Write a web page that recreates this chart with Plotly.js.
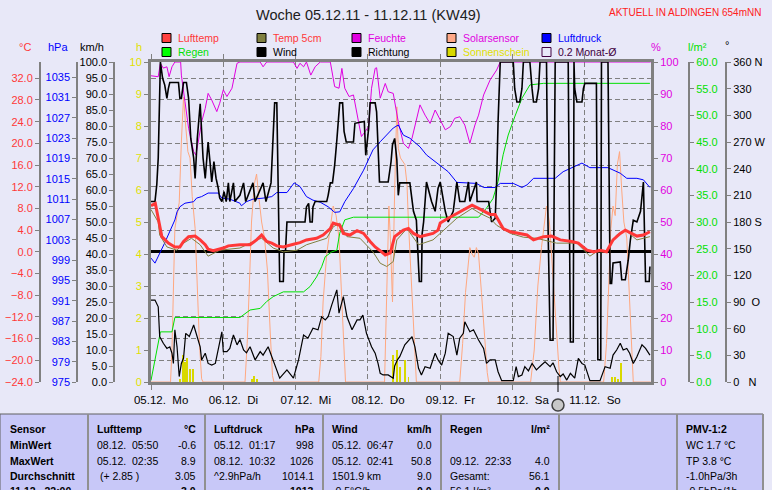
<!DOCTYPE html>
<html><head><meta charset="utf-8">
<script src="https://cdn.plot.ly/plotly-3.0.1.min.js"></script>
<style>html,body{margin:0;padding:0;background:#E8E8F8;overflow:hidden}</style>
</head><body><div id="chart" style="width:772px;height:490px"></div>
<script>
// ---------- DATA (x = days since 05.12.11 00:00) ----------
const dayLabels = ['05.12.\u00a0\u00a0Mo','06.12.\u00a0\u00a0Di','07.12.\u00a0\u00a0Mi','08.12.\u00a0\u00a0Do','09.12.\u00a0\u00a0Fr','10.12.\u00a0\u00a0Sa','11.12.\u00a0\u00a0So'];

const feuchte = [[0,95.7],[0.10,95.4],[0.13,99.6],[0.17,98.1],[0.22,98.5],[0.25,95.4],[0.29,98.5],[0.33,100],[0.41,100],[0.42,95.9],[0.47,87.6],[0.52,79.3],[0.59,72.0],[0.62,70.9],[0.65,74.6],[0.70,81.3],[0.75,85.5],[0.79,90.2],[0.84,88.1],[0.91,84.5],[0.95,87.1],[1.00,91.3],[1.05,89.2],[1.12,91.8],[1.19,99.6],[1.23,100],[1.51,100],[1.55,98.5],[1.60,100],[1.97,100],[2.02,98.0],[2.06,99.6],[2.11,98.5],[2.15,100],[2.21,95.9],[2.27,98.5],[2.34,100],[2.48,100],[2.54,92.3],[2.60,91.8],[2.64,98.0],[2.68,91.8],[2.74,89.2],[2.80,89.7],[2.87,81.3],[2.91,76.7],[2.96,78.2],[3.01,79.8],[3.05,91.8],[3.10,98.0],[3.12,98.2],[3.17,88.7],[3.24,93.3],[3.28,90.7],[3.35,90.2],[3.42,81.3],[3.49,74.6],[3.56,73.0],[3.61,76.2],[3.72,86.6],[3.79,83.4],[3.86,80.8],[3.93,85.0],[4.00,81.9],[4.07,78.8],[4.14,79.8],[4.20,82.4],[4.27,82.9],[4.34,80.3],[4.41,74.6],[4.48,80.3],[4.53,83.4],[4.60,89.7],[4.69,94.4],[4.78,97.5],[4.83,100],[6.91,100]];

const luftdruck = [[0,999.4],[0.055,998.4],[0.19,1002.4],[0.26,1004.5],[0.33,1006.9],[0.36,1008.5],[0.40,1009.5],[0.47,1010.2],[0.59,1010.5],[0.63,1011.2],[0.70,1011.5],[0.79,1012.2],[0.93,1012.2],[0.98,1011.2],[1.09,1011.0],[1.23,1010.2],[1.25,1009.7],[1.32,1010.5],[1.41,1011.0],[1.55,1011.2],[1.67,1011.5],[1.74,1012.3],[1.88,1012.3],[1.98,1014.2],[2.06,1013.5],[2.15,1011.5],[2.24,1010.8],[2.34,1010.4],[2.45,1009.5],[2.54,1008.4],[2.61,1008.5],[2.68,1010.5],[2.80,1013.1],[2.94,1016.7],[3.07,1020.7],[3.17,1022.3],[3.26,1023.6],[3.35,1025.0],[3.42,1025.6],[3.49,1023.6],[3.58,1023.0],[3.72,1021.3],[3.81,1019.7],[3.95,1018.1],[4.11,1016.4],[4.23,1014.3],[4.50,1014.1],[4.60,1013.3],[4.76,1013.3],[4.83,1014.1],[5.01,1014.1],[5.13,1013.3],[5.20,1013.8],[5.29,1015.1],[5.59,1015.1],[5.70,1016.4],[5.82,1017.2],[5.96,1018.1],[6.07,1017.2],[6.32,1017.2],[6.49,1016.1],[6.58,1015.1],[6.72,1015.1],[6.81,1014.8],[6.90,1013.3]];

const lufttemp = [[0,8.5],[0.06,8.9],[0.10,6.2],[0.15,2.8],[0.24,1.6],[0.33,0.9],[0.40,0.9],[0.45,1.9],[0.52,2.8],[0.61,2.9],[0.68,2.2],[0.75,1.3],[0.79,0.5],[0.86,0.2],[1.00,0.7],[1.07,1.1],[1.23,1.3],[1.37,1.3],[1.46,2.2],[1.53,3.1],[1.60,1.9],[1.67,1.6],[1.74,1.1],[1.83,0.9],[1.97,1.4],[2.06,1.7],[2.15,2.2],[2.29,2.5],[2.38,3.1],[2.48,4.3],[2.52,5.3],[2.61,4.9],[2.66,3.4],[2.75,3.1],[2.85,3.9],[2.94,3.4],[3.03,1.9],[3.10,0.9],[3.19,0.0],[3.24,-0.6],[3.31,-0.2],[3.37,2.8],[3.49,4.0],[3.56,4.3],[3.63,3.4],[3.72,2.8],[3.81,3.1],[3.90,3.4],[3.97,4.0],[4.00,5.3],[4.11,6.2],[4.23,7.1],[4.37,8.0],[4.44,8.6],[4.53,8.0],[4.62,7.4],[4.69,6.9],[4.76,6.9],[4.83,5.3],[4.87,4.3],[4.97,3.7],[5.08,3.4],[5.20,3.1],[5.29,2.2],[5.43,2.8],[5.54,2.9],[5.66,2.2],[5.82,1.9],[5.91,1.6],[6.03,0.3],[6.12,0.0],[6.21,0.3],[6.30,0.0],[6.39,2.2],[6.49,3.4],[6.56,4.0],[6.65,3.4],[6.72,2.9],[6.81,3.1],[6.90,3.7]];

const temp5cm = [[0,7.8],[0.10,5.5],[0.12,3.1],[0.22,0.9],[0.36,0.3],[0.45,1.6],[0.56,2.5],[0.68,1.3],[0.79,-0.8],[0.95,0.3],[1.23,0.7],[1.46,2.2],[1.53,2.5],[1.69,0.7],[1.83,0.0],[2.02,0.3],[2.15,1.3],[2.43,2.5],[2.52,4.6],[2.61,5.3],[2.71,2.8],[2.89,2.5],[3.07,0.0],[3.17,-2.1],[3.26,-2.7],[3.35,-1.8],[3.40,2.2],[3.54,4.3],[3.70,1.3],[3.90,2.2],[4.00,3.4],[4.23,6.2],[4.44,8.0],[4.55,7.1],[4.69,6.2],[4.78,4.9],[4.97,3.4],[5.15,2.7],[5.33,2.5],[5.61,1.6],[5.89,1.6],[6.07,-0.8],[6.16,0.0],[6.30,0.0],[6.44,3.1],[6.56,4.0],[6.72,2.2],[6.90,2.8]];

const regen = [[0,0.3],[0.08,6.0],[0.13,9.4],[0.29,9.4],[0.33,12.1],[1.23,12.1],[1.37,13.5],[1.51,13.8],[1.60,15.1],[1.69,16.0],[1.83,16.9],[2.11,16.9],[2.20,17.9],[2.29,19.7],[2.36,21.6],[2.41,23.5],[2.50,24.4],[2.57,24.7],[2.61,27.9],[2.68,30.4],[2.80,30.9],[4.53,30.9],[4.64,32.6],[4.73,34.4],[4.80,37.6],[4.87,42.6],[4.94,46.3],[5.03,49.7],[5.13,53.2],[5.24,55.7],[5.43,56.0],[6.90,56.0]];

const wind = [[0,25.6],[0.055,25.6],[0.10,23.5],[0.12,14.2],[0.17,12.1],[0.22,10.5],[0.26,11.0],[0.29,9.0],[0.31,5.8],[0.33,16.3],[0.36,11.0],[0.39,1.7],[0.42,5.8],[0.45,7.5],[0.48,15.2],[0.53,14.2],[0.59,17.8],[0.63,14.7],[0.68,11.0],[0.70,6.9],[0.75,9.0],[0.79,5.8],[0.84,5.3],[0.89,5.8],[0.93,10.0],[0.98,15.7],[1.00,9.5],[1.05,9.5],[1.09,10.5],[1.14,14.7],[1.19,11.6],[1.23,13.3],[1.28,10.0],[1.32,9.1],[1.37,11.0],[1.44,6.9],[1.51,9.5],[1.55,8.4],[1.62,11.0],[1.69,6.9],[1.78,1.2],[1.88,3.8],[1.97,1.2],[2.04,6.9],[2.11,14.7],[2.17,13.7],[2.24,16.8],[2.31,16.3],[2.36,20.4],[2.41,19.4],[2.45,20.4],[2.50,24.1],[2.57,28.8],[2.60,21.5],[2.66,26.7],[2.71,20.4],[2.78,16.3],[2.85,19.4],[2.89,19.4],[2.93,20.9],[2.98,15.2],[3.05,11.0],[3.10,9.0],[3.14,5.8],[3.17,2.7],[3.21,2.2],[3.28,2.2],[3.35,1.2],[3.37,5.0],[3.41,7.0],[3.44,7.9],[3.51,11.6],[3.61,14.2],[3.65,11.0],[3.70,4.3],[3.74,2.2],[3.79,4.8],[3.86,4.3],[3.93,9.0],[3.97,6.9],[4.02,5.3],[4.07,9.0],[4.11,15.2],[4.18,14.2],[4.23,8.4],[4.27,13.7],[4.32,15.2],[4.34,18.8],[4.41,15.7],[4.46,16.3],[4.53,13.1],[4.60,10.5],[4.64,5.8],[4.69,6.9],[4.76,6.9],[4.80,3.2],[4.85,0.4],[5.01,0.4],[5.05,4.8],[5.08,1.7],[5.13,2.2],[5.17,4.8],[5.22,3.5],[5.27,5.8],[5.33,3.8],[5.40,5.3],[5.45,6.3],[5.52,4.8],[5.56,6.0],[5.61,3.2],[5.66,1.7],[5.70,2.5],[5.75,0.6],[5.80,2.7],[5.86,1.2],[5.91,7.4],[5.96,5.8],[6.00,5.3],[6.07,0.4],[6.21,0.4],[6.28,4.8],[6.35,4.3],[6.39,8.4],[6.44,10.0],[6.49,12.1],[6.53,10.0],[6.58,10.5],[6.62,9.0],[6.67,5.8],[6.72,7.9],[6.79,11.6],[6.84,10.5],[6.90,8.4]];

const richtung = [[0,203],[0.055,203],[0.08,222],[0.10,252],[0.13,360],[0.16,342],[0.19,334],[0.22,319],[0.24,330],[0.26,337],[0.38,337],[0.40,319],[0.42,319],[0.45,337],[0.49,337],[0.52,319],[0.55,274],[0.59,252],[0.61,229],[0.64,274],[0.68,313],[0.70,278],[0.72,252],[0.75,229],[0.79,270],[0.82,244],[0.84,225],[0.87,248],[0.90,229],[0.93,218],[0.95,207],[0.98,203],[1.01,214],[1.04,203],[1.07,224],[1.09,203],[1.14,224],[1.16,203],[1.23,210],[1.28,224],[1.31,203],[1.41,224],[1.44,203],[1.55,224],[1.59,203],[1.66,224],[1.71,314],[1.74,314],[1.76,182],[1.78,113],[1.83,113],[1.84,147],[1.86,147],[1.88,180],[2.13,180],[2.15,197],[2.18,201],[2.20,180],[2.23,180],[2.24,197],[2.27,203],[2.43,203],[2.45,210],[2.48,224],[2.51,224],[2.54,244],[2.57,272],[2.61,314],[2.65,314],[2.67,282],[2.70,270],[2.80,270],[2.82,291],[2.95,293],[2.97,255],[3.01,285],[3.03,314],[3.10,314],[3.12,304],[3.14,255],[3.16,225],[3.28,225],[3.32,248],[3.34,267],[3.37,274],[3.40,250],[3.42,210],[3.44,224],[3.58,224],[3.63,192],[3.67,182],[3.71,113],[3.74,113],[3.75,167],[3.77,180],[3.81,225],[3.88,203],[3.93,192],[3.97,218],[4.00,225],[4.07,192],[4.11,180],[4.18,192],[4.23,225],[4.27,203],[4.34,203],[4.39,225],[4.41,203],[4.50,225],[4.51,203],[4.67,203],[4.71,180],[4.76,184],[4.78,225],[4.80,293],[4.83,360],[5.01,360],[5.03,330],[5.06,315],[5.10,315],[5.13,330],[5.15,360],[5.24,360],[5.27,330],[5.29,315],[5.33,315],[5.36,330],[5.38,360],[5.47,360],[5.49,180],[5.52,47],[5.56,47],[5.59,360],[5.77,360],[5.80,45],[5.84,45],[5.85,360],[5.86,330],[5.89,315],[5.96,315],[5.98,330],[6.00,336],[6.16,336],[6.18,25],[6.22,25],[6.23,360],[6.32,360],[6.35,111],[6.37,111],[6.39,134],[6.49,135],[6.51,115],[6.56,115],[6.60,137],[6.63,160],[6.67,182],[6.72,180],[6.77,192],[6.81,225],[6.84,113],[6.89,113],[6.90,130]];

const solar = [[0,0],[0.27,0],[0.29,10],[0.31,30],[0.33,48],[0.36,52],[0.39,56],[0.42,75],[0.45,89],[0.48,80],[0.51,72],[0.54,70],[0.57,58],[0.61,48],[0.64,30],[0.67,12],[0.70,1],[0.72,0],[1.30,0],[1.33,12],[1.36,30],[1.39,50],[1.43,62],[1.46,65],[1.49,58],[1.53,50],[1.57,45],[1.61,35],[1.65,15],[1.68,2],[1.70,0],[2.32,0],[2.35,8],[2.38,25],[2.43,40],[2.48,48],[2.52,55],[2.56,52],[2.60,45],[2.63,30],[2.66,12],[2.69,0],[3.23,0],[3.26,25],[3.29,55],[3.31,45],[3.34,25],[3.37,60],[3.40,86],[3.42,73],[3.45,70],[3.51,68],[3.54,62],[3.56,50],[3.60,30],[3.64,10],[3.67,0],[4.27,0],[4.31,12],[4.35,28],[4.39,38],[4.41,42],[4.44,40],[4.47,39],[4.50,42],[4.53,40],[4.57,28],[4.61,14],[4.65,3],[4.67,0],[5.25,0],[5.30,10],[5.35,30],[5.40,42],[5.44,50],[5.47,55],[5.51,50],[5.55,35],[5.60,18],[5.64,5],[5.66,0],[6.26,0],[6.30,12],[6.33,30],[6.36,48],[6.39,55],[6.42,52],[6.45,68],[6.48,72],[6.51,60],[6.54,50],[6.58,45],[6.62,25],[6.65,8],[6.67,0],[6.91,0]];

const sonnenschein = [[0.40,0.08],[0.44,0.84],[0.47,0.62],[0.50,0.76],[0.54,0.42],[0.58,0.42],[1.40,0.08],[1.43,0.18],[1.47,0.08],[3.35,0.84],[3.40,1.0],[3.44,0.48],[3.51,0.69],[3.56,0.17],[6.37,0.17],[6.42,0.17],[6.46,0.1],[6.50,0.58]];

// axis tick labels
const dirTickVals = [0,30,60,90,120,150,180,210,240,270,300,330,360];
const dirTickText = ['0\u00a0\u00a0\u00a0N','30','60','90\u00a0\u00a0O','120','150','180 S','210','240','270 W','300','330','360 N'];

// table texts
const rowLabels = ['Sensor','MinWert','MaxWert','Durchschnitt','11.12.\u00a0\u00a022:00'];
const colHeads = ['Lufttemp','Luftdruck','Wind','Regen'];
const colUnits = ['°C','hPa','km/h','l/m²'];
const lufttempLeft = ['08.12.\u00a0\u00a005:50','05.12.\u00a0\u00a002:35','\u00a0(+ 2.85 )',''];
const lufttempRight = ['-0.6','8.9','3.05','<b>3.0</b>'];
const luftdruckLeft = ['05.12.\u00a0\u00a001:17','08.12.\u00a0\u00a010:32','^2.9hPa/h',''];
const luftdruckRight = ['998','1026','1014.1','<b>1013</b>'];
const windLeft = ['05.12.\u00a0\u00a006:47','05.12.\u00a0\u00a002:41','1501.9 km','-0.5°C/h'];
const windRight = ['0.0','50.8','9.0','<b>0.0</b>'];
const regenLeft = ['','09.12.\u00a0\u00a022:33','Gesamt:','56.1 l/m²'];
const regenRight = ['','4.0','56.1','<b>0.0</b>'];
const pmvCol = ['<b>PMV-1:2</b>','WC 1.7 °C','TP 3.8 °C','-1.0hPa/3h','-0.5hPa/1h'];

// ---------- LAYOUT HELPERS ----------
const W=772,H=490;
const px=x=>x/W, py=y=>1-y/H;
const FN="Liberation Sans, Arial, sans-serif";
const GREY='#808080';
const ydom=[py(382),py(62)];
const C={red:'#FF3838',blue:'#0000FF',mag:'#E000E0',green:'#00E000',yel:'#E0E000',olive:'#808040',salmon:'#FFA880'};

const col=(arr,i)=>arr.map(p=>p[i]);
const traces=[
 {x:col(sonnenschein,0),y:col(sonnenschein,1),type:'bar',width:0.025,marker:{color:'#D8D800',line:{width:0}},yaxis:'y',xaxis:'x'},
 {x:col(solar,0),y:col(solar,1),mode:'lines',line:{color:C.salmon,width:1},yaxis:'y2'},
 {x:col(feuchte,0),y:col(feuchte,1),mode:'lines',line:{color:C.mag,width:1},yaxis:'y2'},
 {x:col(regen,0),y:col(regen,1),mode:'lines',line:{color:C.green,width:1},yaxis:'y3'},
 {x:col(luftdruck,0),y:col(luftdruck,1),mode:'lines',line:{color:C.blue,width:1},yaxis:'y4'},
 {x:col(wind,0),y:col(wind,1),mode:'lines',line:{color:'#000',width:1.2},yaxis:'y5'},
 {x:col(richtung,0),y:col(richtung,1),mode:'lines',line:{color:'#000',width:1.6},yaxis:'y6'},
 {x:col(temp5cm,0),y:col(temp5cm,1),mode:'lines',line:{color:C.olive,width:1},yaxis:'y7'},
 {x:col(lufttemp,0),y:col(lufttemp,1),mode:'lines',line:{color:C.red,width:3},yaxis:'y7'}
];
traces.forEach(t=>{t.hoverinfo='skip';t.showlegend=false;if(t.type!=='bar')t.type='scatter';});

const ax=(o)=>Object.assign({domain:ydom,showgrid:false,zeroline:false,showline:true,linecolor:GREY,linewidth:2,ticks:'outside',ticklen:4,tickcolor:GREY,tickwidth:1,fixedrange:true},o);
const tf=c=>({family:FN,size:11,color:c});

const layout={
 width:W,height:H,margin:{l:0,r:0,t:0,b:0},
 paper_bgcolor:'#E8E8F8',plot_bgcolor:'#E8E8F8',
 showlegend:false,bargap:0,
 xaxis:{domain:[px(151),px(651)],range:[0,6.915],anchor:'y',showline:true,linecolor:GREY,linewidth:3,mirror:'ticks',
   tickmode:'array',tickvals:dayLabels.map((_,i)=>i+0.14),ticktext:dayLabels,ticks:'',showgrid:false,zeroline:false,
   tickfont:{family:FN,size:11.5,color:'#000'},ticklabelstandoff:5,fixedrange:true,
   minor:{tick0:0,dtick:1,showgrid:true,gridcolor:GREY,griddash:'5px,3px',gridwidth:1,ticks:'outside',ticklen:5,tickcolor:GREY}},
 yaxis:ax({range:[0,10],tick0:0,dtick:1,tickfont:tf(C.yel),linewidth:3,mirror:true,anchor:'x'}),
 yaxis2:ax({overlaying:'y',side:'right',anchor:'x',range:[0,100],tick0:0,dtick:10,tickfont:tf(C.mag),linewidth:3}),
 yaxis3:ax({overlaying:'y',side:'right',anchor:'free',position:px(689),range:[0,60],tick0:0,dtick:5,tickformat:'.1f',tickfont:tf(C.green)}),
 yaxis4:ax({overlaying:'y',side:'left',anchor:'free',position:px(77.3),range:[975,1038],tick0:975,dtick:4,tickfont:tf(C.blue)}),
 yaxis5:ax({overlaying:'y',side:'left',anchor:'free',position:px(114.3),range:[0,100],tick0:0,dtick:5,tickformat:'.1f',tickfont:tf('#000')}),
 yaxis6:ax({overlaying:'y',side:'right',anchor:'free',position:px(726),range:[0,360],tickmode:'array',tickvals:dirTickVals,ticktext:dirTickText,tickfont:tf('#000')}),
 yaxis7:ax({overlaying:'y',side:'left',anchor:'free',position:px(40),range:[-24,35],tick0:-24,dtick:4,tickformat:'.1f',tickfont:tf(C.red),
   showgrid:true,gridcolor:GREY,griddash:'5px,3px',gridwidth:1,zeroline:true,zerolinecolor:'#000',zerolinewidth:3}),
 shapes:[],annotations:[]
};
const A=(text,x,y,xa,font,ya)=>layout.annotations.push({xref:'paper',yref:'paper',x:px(x),y:py(y),text:text,showarrow:false,xanchor:xa||'left',yanchor:ya||'middle',font:Object.assign({family:FN,size:11,color:'#000'},font||{})});
const R=(x0,y0,x1,y1,fill,line,lw)=>layout.shapes.push({type:'rect',xref:'paper',yref:'paper',x0:px(x0),x1:px(x1),y0:py(y0),y1:py(y1),fillcolor:fill||'rgba(0,0,0,0)',line:{color:line||'rgba(0,0,0,0)',width:lw===undefined?1:lw},layer:'above'});
const L=(x0,y0,x1,y1,c,w)=>layout.shapes.push({type:'line',xref:'paper',yref:'paper',x0:px(x0),x1:px(x1),y0:py(y0),y1:py(y1),line:{color:c,width:w},layer:'above'});

// title
A('Woche 05.12.11 - 11.12.11 (KW49)',368.5,15,'center',{size:14.5,color:'#202020'});
A('AKTUELL IN ALDINGEN 654mNN',763,13,'right',{size:10,color:'#FF2020'});
// units
A('°C',25,47,'center',{color:C.red});
A('hPa',57.5,47,'center',{color:C.blue});
A('km/h',92,47,'center');
A('h',139,47,'center',{color:C.yel});
A('%',656,47,'center',{color:C.mag});
A('l/m²',697,47,'center',{color:C.green});
A('°',727,45,'center');

// legend
const legItems=[
 ['Lufttemp','#FF4040',C.red,162,38],['Temp 5cm',C.olive,C.red,257,38],['Feuchte','#E000E0',C.mag,352,38],['Solarsensor','#FFA888',C.mag,447,38],['Luftdruck','#0000FF',C.blue,542,38],
 ['Regen','#00FF00','#00E000',162,52],['Wind','#000','#000',257,52],['Richtung','#000','#000',352,52],['Sonnenschein','#D8D800','#E0E000',447,52],['0.2 Monat-Ø',null,'#400040',542,52]
];
legItems.forEach(([t,sq,tc,x,y])=>{
  if(sq) R(x,y-4.5,x+9,y+4.5,sq,'#000',1); else R(x,y-4.5,x+9,y+4.5,null,'#400040',1);
  A(t,x+14,y,'left',{color:tc,size:10.5});
});

// now marker
L(558,376,558,392,'#000',1);
layout.shapes.push({type:'circle',xref:'paper',yref:'paper',x0:px(552),x1:px(564),y0:py(411),y1:py(399),fillcolor:'#C8C8C8',line:{color:'#404040',width:1.5},layer:'above'});

// table
R(0,414,763,492,'#C8C8F8','#606060',1);
[88,205,323,441,559,677].forEach(x=>L(x,414,x,492,'#909090',2));
L(763,414,763,492,'#909090',2);
const rows=[428.5,444.5,460.5,476,491];
const TS={size:10.5};
rowLabels.forEach((t,i)=>A('<b>'+t+'</b>',8,rows[i],'left',TS));
const colX=[[95,198],[212.5,316],[330,434],[448,552]];
const lefts=[lufttempLeft,luftdruckLeft,windLeft,regenLeft];
const rights=[lufttempRight,luftdruckRight,windRight,regenRight];
colHeads.forEach((h,c)=>{
  A('<b>'+h+'</b>',colX[c][0],rows[0],'left',TS);
  A('<b>'+colUnits[c]+'</b>',colX[c][1],rows[0],'right',TS);
  lefts[c].forEach((t,i)=>{ if(t) A(t,colX[c][0],rows[i+1],'left',TS); });
  rights[c].forEach((t,i)=>{ if(t) A(t,colX[c][1],rows[i+1],'right',TS); });
});
pmvCol.forEach((t,i)=>A(t,684,rows[i],'left',TS));

Plotly.newPlot('chart',traces,layout,{staticPlot:true,displayModeBar:false});
</script></body></html>
